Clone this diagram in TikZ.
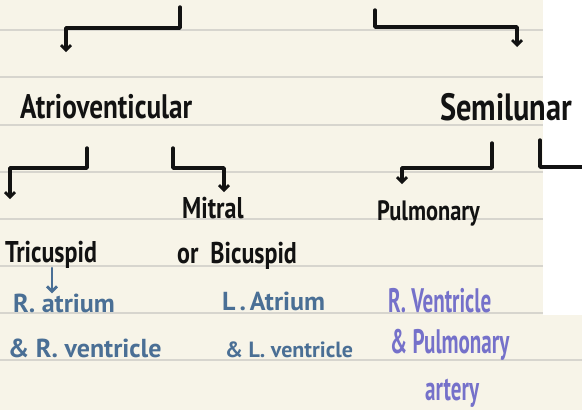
\documentclass[tikz,border=0pt]{standalone}
\usepackage{fontspec}
\usetikzlibrary{arrows.meta,positioning}
% marker-style lettering: narrow sans faces
\newfontfamily\markerfont[FakeStretch=0.8]{PT Sans}
\newfontfamily\penfont[FakeStretch=1.0]{PT Sans}
\newfontfamily\tallpenfont[FakeStretch=0.62]{PT Sans}
\definecolor{paper}{HTML}{F7F4E8}
\definecolor{ruling}{HTML}{D7D5CE}
\definecolor{ink}{HTML}{121212}
\definecolor{inkblue}{HTML}{4A6F95}
\definecolor{inkviolet}{HTML}{7571CA}

\begin{document}
\begin{tikzpicture}[x=1pt, y=-1pt,
    heading/.style={font=\markerfont\bfseries\fontsize{34}{36}\selectfont, text=ink, anchor=base west, inner sep=0pt},
    valve/.style={font=\markerfont\bfseries\fontsize{30}{32}\selectfont, text=ink, anchor=base west, inner sep=0pt},
    bluenote/.style={font=\penfont\bfseries\fontsize{26}{28}\selectfont, text=inkblue, anchor=base west, inner sep=0pt},
    violetnote/.style={font=\tallpenfont\bfseries\fontsize{34}{36}\selectfont, text=inkviolet, anchor=base west, inner sep=0pt},
    branch/.style={draw=ink, line width=3.4pt, line cap=round, line join=round},
    branchtip/.style={branch, -{Straight Barb[length=5pt, width=10pt, line width=2.8pt]}}
]
    % ruled paper
    \useasboundingbox (0,0) rectangle (582,410);
    \fill[paper] (0,0) rectangle (582,410);
    \fill[white] (543,0) rectangle (582,315);
    \foreach \y in {30,77,125,172,219,266,313}
        \draw[ruling, line width=1.3pt] (0,\y) -- (543,\y);
    \draw[ruling, line width=1.3pt] (0,360) -- (582,360);

    % headings
    \node[heading] (atrio) at (20,118) {Atrioventicular};
    \node[heading, font=\markerfont\bfseries\fontsize{38}{40}\selectfont] (semi) at (440,120) {Semilunar};

    % valves
    \node[valve] (tricus) at (5,262) {Tricuspid};
    \node[valve] (mitral) at (182,218) {Mitral};
    \node[valve] (bicus) at (177,263) {or\hspace{12pt}Bicuspid};
    \node[valve, font=\markerfont\bfseries\fontsize{28}{30}\selectfont] (pulmo) at (377,220) {Pulmonary};

    % where they sit
    \node[bluenote] (ratrium) at (13,312) {R. atrium};
    \node[bluenote] (rventr) at (8,357) {\& R. ventricle};
    \node[bluenote] (latrium) at (222,310) {L\hspace{4pt}.\hspace{4pt}Atrium};
    \node[bluenote, font=\penfont\bfseries\fontsize{22}{24}\selectfont] (lventr) at (225,357) {\& L. ventricle};
    \node[violetnote] (rvent) at (388,312) {R. Ventricle};
    \node[violetnote] (pulart) at (390,353) {\& Pulmonary};
    \node[violetnote] (artery) at (425,400) {artery};

    % stubs and arrow ends
    \coordinate (atriotop) at (180,7);
    \coordinate (atrioin) at (66,52);
    \coordinate (semitop) at (375,10);
    \coordinate (semiin) at (517,47);
    \coordinate (tritop) at (87,148);
    \coordinate (triin) at (10,199);
    \coordinate (mitop) at (173,148);
    \coordinate (miin) at (224,192);
    \coordinate (pultop) at (492,143);
    \coordinate (pulin) at (402,184);
    \coordinate (aortop) at (540,140);
    \coordinate (aorout) at (590,167);

    \draw[branchtip] (atriotop) -- ++(0,21) -| (atrioin);
    \draw[branchtip] (semitop) -- ++(0,17) -| (semiin);
    \draw[branchtip] (tritop) -- ++(0,20) -| (triin);
    \draw[branchtip] (mitop) -- ++(0,20) -| (miin);
    \draw[branchtip] (pultop) -- ++(0,25) -| (pulin);
    \draw[branch] (aortop) |- (aorout);

    % tricuspid sits between right atrium and ventricle
    \draw[branchtip, draw=inkblue, line width=2.6pt] ([xshift=47pt,yshift=-6pt]tricus.base west) -- ([xshift=39pt]ratrium.north west);
\end{tikzpicture}
\end{document}
